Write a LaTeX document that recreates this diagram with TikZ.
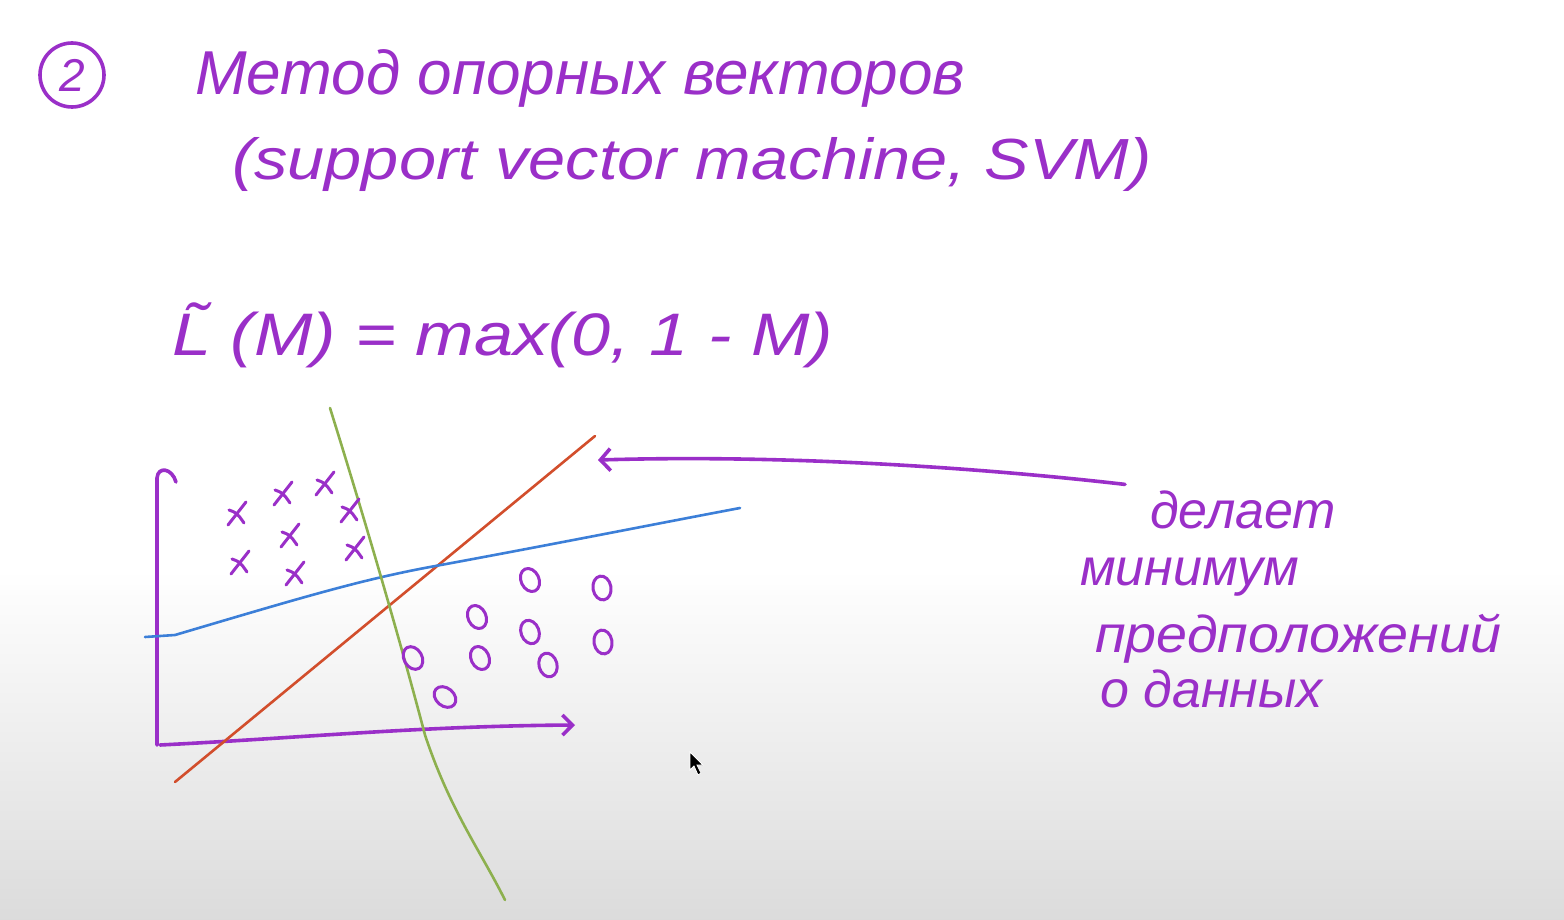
\documentclass[tikz,border=0pt]{standalone}
\usepackage{fontspec}
\setmainfont{Liberation Sans}
\usepackage{tikz}
\usetikzlibrary{arrows.meta, positioning, calc}
\usepackage{xcolor}
\definecolor{Ink}{HTML}{9A2FC8}
\definecolor{LineBlue}{HTML}{3C7FD8}
\definecolor{LineRed}{HTML}{D24E2C}
\definecolor{LineGreen}{HTML}{8DB04E}
\newcommand{\hand}[1]{\fontsize{#1}{#1}\selectfont\itshape}

\tikzset{
  ink/.style={draw=Ink, line width=3.6pt, line cap=round, line join=round},
  pen/.style={text=Ink, inner sep=0pt, anchor=base west},
  marker/.style={line width=2.6pt, line cap=round}
}

\begin{document}
\begin{tikzpicture}[x=1pt, y=-1pt]
  % board
  \fill[white] (0,0) rectangle (1564,920);
  \shade[top color=white, bottom color=black!14] (0,570) rectangle (1564,920);
  \useasboundingbox (0,0) rectangle (1564,920);

  % heading
  \node[draw=Ink, line width=3.6pt, circle, minimum size=64pt, inner sep=0pt,
        text=Ink, font=\hand{46}] (num) at (72,75) {2};
  \node[pen, font=\hand{62}] (title) at (195,95) {Метод опорных векторов};
  \node[pen, font=\hand{58}] (subtitle) at (232,180)
    {\scalebox{1.15}[1]{(support vector machine, SVM)}};

  % loss
  \node[pen, font=\hand{60}] (loss) at (172,355)
    {\scalebox{1.17}[1]{\~{L} (M) = max(0, 1 - M)}};

  % axes
  \coordinate (origin) at (157,745);
  \coordinate (ytop) at (157,478);
  \coordinate (xend) at (575,725);
  \draw[ink] (origin) -- (ytop) .. controls (158,466) and (172,468) .. (176,482);
  \draw[ink, -{Straight Barb[length=10pt, width=20pt]}]
    ([xshift=3pt]origin) .. controls (300,738) and (420,726) .. (xend);

  % separating lines
  \coordinate (redlow) at (175,782);
  \coordinate (redtop) at (595,436);
  \draw[marker, LineRed] (redlow) -- (redtop);
  \draw[marker, LineBlue] (145,637) -- (175,635) .. controls (300,598) and (360,580)
    .. (430,567) .. controls (560,543) and (650,525) .. (740,508);
  \draw[marker, LineGreen] (330,408) .. controls (365,520) and (400,640)
    .. (425,735) .. controls (450,810) and (480,850) .. (505,900);

  % class crosses
  \foreach \x/\y in {237/513, 283/493, 325/483, 350/510, 290/535,
                     355/548, 240/562, 295/573}{
    \draw[ink, line width=3pt] (\x-9,\y+12) -- (\x+9,\y-11);
    \draw[ink, line width=3pt] (\x-8,\y-3) .. controls (\x,\y) .. (\x+7,\y+10);
  }
  % class circles
  \foreach \x/\y/\r in {530/580/25, 602/588/10, 477/617/25, 530/632/20, 603/642/10,
                        413/658/30, 480/658/25, 548/665/15, 445/697/50}{
    \draw[ink, line width=3pt, rotate around={\r:(\x,\y)}] (\x,\y) ellipse (9 and 12);
  }

  % note
  \node[pen, font=\hand{52}] (n1) at (1150,528) {делает};
  \node[pen, font=\hand{52}] (n2) at (1080,585) {минимум};
  \node[pen, font=\hand{52}] (n3) at (1095,652) {\scalebox{1.07}[1]{предположений}};
  \node[pen, font=\hand{52}] (n4) at (1100,707) {о данных};
  \coordinate (pointer) at (598,460);
  \draw[ink, -{Straight Barb[length=10pt, width=22pt]}]
    ([xshift=-25pt, yshift=25pt]n1.west) .. controls (1000,470) and (800,454) .. (pointer);

  % cursor
  \fill[black, draw=white, line width=0.8pt] (690,752) -- (690,770) -- (694,766)
    -- (698,775) -- (701,773) -- (697,765) -- (703,765) -- cycle;
\end{tikzpicture}
\end{document}
